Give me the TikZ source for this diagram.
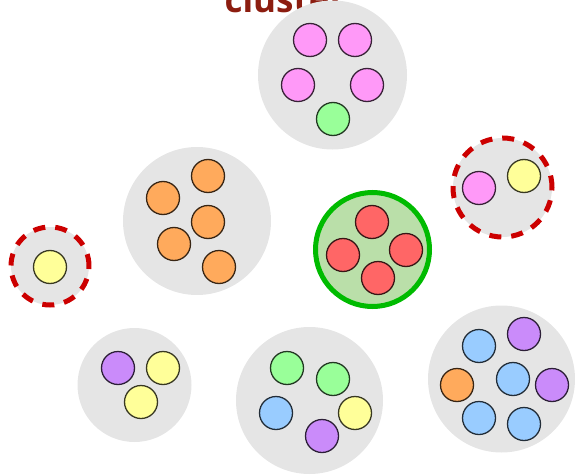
\documentclass[tikz,border=0pt]{standalone}
\usepackage{fontspec}
\setmainfont{Open Sans}
\definecolor{titlered}{HTML}{8C1D10}
\definecolor{clgray}{HTML}{E5E5E5}
\definecolor{cpink}{HTML}{FF99F8}
\definecolor{cgreen}{HTML}{99FF99}
\definecolor{corange}{HTML}{FFAA5C}
\definecolor{cred}{HTML}{FF6666}
\definecolor{cyellow}{HTML}{FFFF99}
\definecolor{cpurple}{HTML}{CA8BFA}
\definecolor{cblue}{HTML}{99CCFF}
\definecolor{dashred}{HTML}{CC0000}
\definecolor{goodgreen}{HTML}{00BB00}
\definecolor{goodfill}{HTML}{BADFA9}
\tikzset{
  cluster/.style={circle, fill=clgray, draw=none, inner sep=0pt, minimum size=#1},
  badcluster/.style={circle, fill=clgray, draw=dashred, line width=5pt, dash pattern=on 12pt off 10pt, inner sep=0pt, minimum size=#1},
  goodcluster/.style={circle, fill=goodfill, draw=goodgreen, line width=5pt, inner sep=0pt, minimum size=#1},
  pt/.style={circle, fill=#1, draw=#1!22!black, line width=1.3pt, inner sep=0pt, minimum size=33pt},
}
\begin{document}
\begin{tikzpicture}[x=1pt,y=-1pt]
\useasboundingbox (0,0) rectangle (575,476);
\node[anchor=base, text=titlered, font=\fontsize{35}{40}\selectfont\bfseries] (title) at (285,13) {cluster};
% clusters
\node[cluster=149pt] (c1) at (332.5,75) {};
\node[cluster=148pt] (c2) at (197,221) {};
\node[badcluster=78pt] (c3) at (50,266) {};
\node[goodcluster=114pt] (c4) at (372.5,249.5) {};
\node[badcluster=99pt] (c5) at (502.5,187.5) {};
\node[cluster=114pt] (c6) at (134.5,385) {};
\node[cluster=147pt] (c7) at (309.5,400.5) {};
\node[cluster=147pt] (c8) at (501.5,379) {};
% top cluster
\node[pt=cpink] (a1) at (310,40) {};
\node[pt=cpink] (a2) at (355,40) {};
\node[pt=cpink] (a3) at (298,85) {};
\node[pt=cpink] (a4) at (367,85) {};
\node[pt=cgreen] (a5) at (333,119) {};
% orange cluster
\node[pt=corange] (b1) at (208,176) {};
\node[pt=corange] (b2) at (163,198) {};
\node[pt=corange] (b3) at (208,222) {};
\node[pt=corange] (b4) at (174,244) {};
\node[pt=corange] (b5) at (219,267) {};
% small dashed
\node[pt=cyellow] (d1) at (50,267) {};
% green cluster
\node[pt=cred] (e1) at (372,222) {};
\node[pt=cred] (e2) at (343,255) {};
\node[pt=cred] (e3) at (406,250) {};
\node[pt=cred] (e4) at (378,278) {};
% right dashed
\node[pt=cpink] (f1) at (479,188) {};
\node[pt=cyellow] (f2) at (524,176) {};
% purple/yellow
\node[pt=cpurple] (g1) at (118,368) {};
\node[pt=cyellow] (g2) at (163,368) {};
\node[pt=cyellow] (g3) at (141,402) {};
% bottom middle
\node[pt=cgreen] (h1) at (287,368) {};
\node[pt=cgreen] (h2) at (333,379) {};
\node[pt=cblue] (h3) at (276,413) {};
\node[pt=cyellow] (h4) at (355,413) {};
\node[pt=cpurple] (h5) at (322,436) {};
% right
\node[pt=cblue] (k1) at (479,346) {};
\node[pt=cpurple] (k2) at (524,334) {};
\node[pt=corange] (k3) at (457,385) {};
\node[pt=cblue] (k4) at (513,379) {};
\node[pt=cpurple] (k5) at (552,385) {};
\node[pt=cblue] (k6) at (479,418) {};
\node[pt=cblue] (k7) at (524,424) {};
\end{tikzpicture}
\end{document}
